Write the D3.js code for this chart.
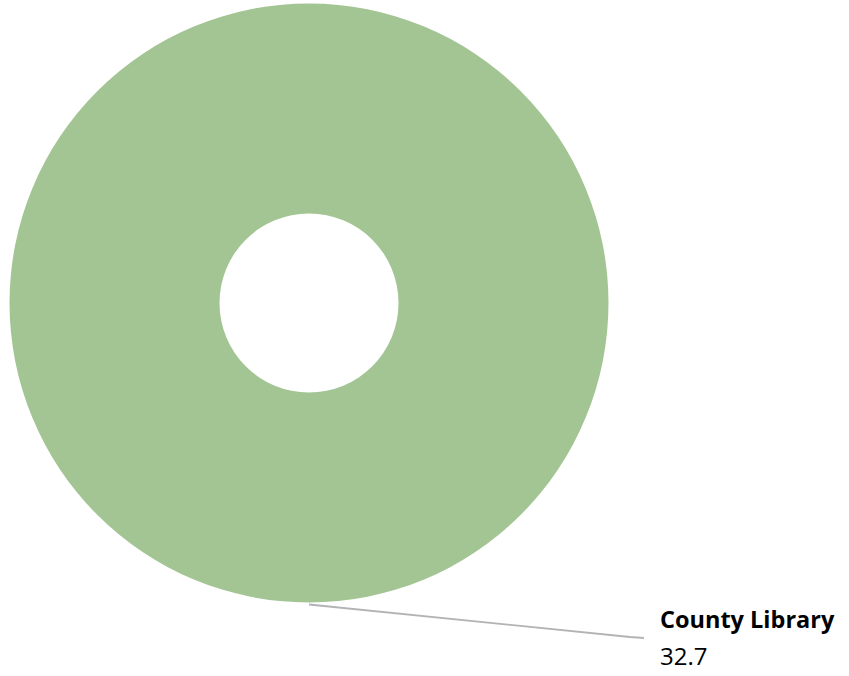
<!DOCTYPE html>
<html>
<head>
<meta charset="utf-8">
<script src="https://cdn.jsdelivr.net/npm/d3@7"></script>
<style>
  html, body { margin: 0; padding: 0; background: #ffffff; }
  svg { display: block; }
</style>
</head>
<body>
<svg id="chart" width="849" height="676"></svg>
<script>
// Library usage share
const categories = ["County Library"];
const values = [32.7];
const colors = ["#a3c594"];

const width = 849, height = 676;
const cx = 309, cy = 303;
const outerR = 299.5, innerR = 89.5;

const svg = d3.select("#chart");
const g = svg.append("g").attr("transform", `translate(${cx},${cy})`);

const pie = d3.pie().sort(null).value(d => d.value);
const arcs = pie(categories.map((c, i) => ({ name: c, value: values[i] })));

const arc = d3.arc().innerRadius(innerR).outerRadius(outerR);

g.selectAll("path.slice")
  .data(arcs)
  .join("path")
  .attr("class", "slice")
  .attr("d", arc)
  .attr("fill", (d, i) => colors[i % colors.length]);

// Leader lines and labels
arcs.forEach((d) => {
  const mid = (d.startAngle + d.endAngle) / 2;
  const sx = Math.sin(mid) * (outerR + 2);
  const sy = -Math.cos(mid) * (outerR + 2);
  const bx = 321, by = 334;   // elbow, relative to centre
  const ex = 335, ey = 335;   // end next to label
  g.append("path")
    .attr("d", d3.line()([[sx, sy], [bx, by], [ex, ey]]))
    .attr("fill", "none")
    .attr("stroke", "#b3b3b3")
    .attr("stroke-width", 1.8);

  const label = g.append("text")
    .attr("font-family", "'Open Sans', 'Liberation Sans', sans-serif")
    .attr("fill", "#000000");
  label.append("tspan")
    .attr("x", ex + 16)
    .attr("y", 325)
    .attr("font-weight", "bold")
    .attr("font-size", 23.5)
    .text(d.data.name);
  label.append("tspan")
    .attr("x", ex + 16)
    .attr("y", 362)
    .attr("font-size", 24)
    .text(d3.format(".1f")(d.data.value));
});
</script>
</body>
</html>
